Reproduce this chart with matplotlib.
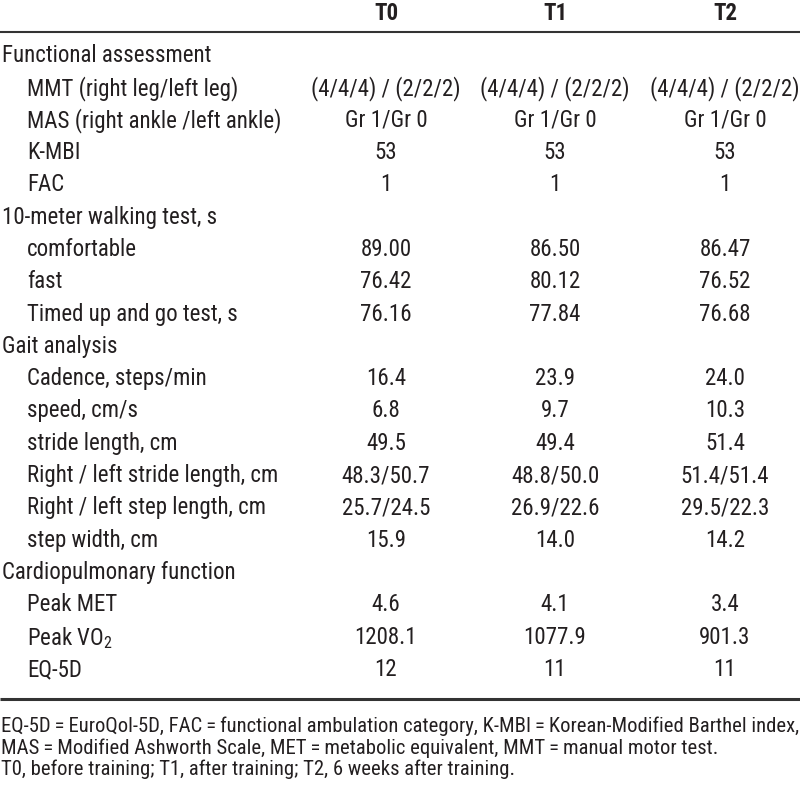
import matplotlib
matplotlib.use("Agg")
import matplotlib.pyplot as plt
from matplotlib import font_manager

# ---------------- data ----------------
columns = ["T0", "T1", "T2"]
row_labels = [
    "Functional assessment",
    "MMT (right leg/left leg)",
    "MAS (right ankle /left ankle)",
    "K-MBI",
    "FAC",
    "10-meter walking test, s",
    "comfortable",
    "fast",
    "Timed up and go test, s",
    "Gait analysis",
    "Cadence, steps/min",
    "speed, cm/s",
    "stride length, cm",
    "Right / left stride length, cm",
    "Right / left step length, cm",
    "step width, cm",
    "Cardiopulmonary function",
    "Peak MET",
    "Peak VO$_2$",
    "EQ-5D",
]
is_section = [True, False, False, False, False, True, False, False, False,
              True, False, False, False, False, False, False,
              True, False, False, False]
t0_values = ["", "(4/4/4) / (2/2/2)", "Gr 1/Gr 0", "53", "1", "", "89.00", "76.42", "76.16",
             "", "16.4", "6.8", "49.5", "48.3/50.7", "25.7/24.5", "15.9", "", "4.6", "1208.1", "12"]
t1_values = ["", "(4/4/4) / (2/2/2)", "Gr 1/Gr 0", "53", "1", "", "86.50", "80.12", "77.84",
             "", "23.9", "9.7", "49.4", "48.8/50.0", "26.9/22.6", "14.0", "", "4.1", "1077.9", "11"]
t2_values = ["", "(4/4/4) / (2/2/2)", "Gr 1/Gr 0", "53", "1", "", "86.47", "76.52", "76.68",
             "", "24.0", "10.3", "51.4", "51.4/51.4", "29.5/22.3", "14.2", "", "3.4", "901.3", "11"]
footnotes = [
    "EQ-5D\u2009=\u2009EuroQol-5D, FAC\u2009=\u2009functional ambulation category, K-MBI\u2009=\u2009Korean-Modified Barthel index,",
    "MAS\u2009=\u2009Modified Ashworth Scale, MET\u2009=\u2009metabolic equivalent, MMT\u2009=\u2009manual motor test.",
    "T0, before training; T1, after training; T2, 6 weeks after training.",
]

# ---------------- fonts ----------------
def pick(names):
    for n in names:
        try:
            font_manager.findfont(font_manager.FontProperties(family=n), fallback_to_default=False)
            return n
        except Exception:
            pass
    return "DejaVu Sans"

main_font = pick(["Liberation Sans Narrow", "Roboto Condensed", "Liberation Sans"])
plt.rcParams["font.family"] = [main_font, "DejaVu Sans"]
plt.rcParams["mathtext.fontset"] = "custom"
plt.rcParams["mathtext.rm"] = main_font
plt.rcParams["mathtext.it"] = main_font
plt.rcParams["mathtext.bf"] = main_font

# ---------------- layout ----------------
W, H = 800, 798
fig = plt.figure(figsize=(W / 100, H / 100), dpi=100)
ax = fig.add_axes([0, 0, 1, 1])
ax.set_xlim(0, W)
ax.set_ylim(H, 0)
ax.axis("off")
renderer = fig.canvas.get_renderer()


def fitted_size(samples, base=12.0):
    """font size so that the sample strings get the widths seen in the reference"""
    scales = []
    for s, target in samples:
        t = ax.text(0, 0, s, fontsize=base)
        w = t.get_window_extent(renderer).width
        t.remove()
        scales.append(target / w)
    return base * sum(scales) / len(scales)


fs = fitted_size([("Functional assessment", 206), ("MMT (right leg/left leg)", 211),
                  ("(4/4/4) / (2/2/2)", 147), ("MAS (right ankle /left ankle)", 258)])
fs_foot = fitted_size([(footnotes[0], 793)])

col_x = [386, 555, 725]
header_y = 13.5
top_line_y = 32
first_row_y = 53
last_row_y = 667
row_step = (last_row_y - first_row_y) / (len(row_labels) - 1)
bottom_line_y = 699
foot_y = [724, 746, 767]
tc = "#231f20"

for cx, name in zip(col_x, columns):
    ax.text(cx, header_y, name, ha="center", va="center", fontsize=fs,
            fontweight="bold", color=tc)

ax.plot([0, W], [top_line_y, top_line_y], color="#333333", lw=1.5, solid_capstyle="butt")
ax.plot([0, W], [bottom_line_y, bottom_line_y], color="#333333", lw=2.2, solid_capstyle="butt")

for i, lab in enumerate(row_labels):
    y = first_row_y + i * row_step
    x = 2 if is_section[i] else 27
    ax.text(x, y, lab, ha="left", va="center_baseline", fontsize=fs, color=tc)
    for cx, vals in zip(col_x, [t0_values, t1_values, t2_values]):
        if vals[i]:
            ax.text(cx, y, vals[i], ha="center", va="center_baseline", fontsize=fs, color=tc)

for j, line in enumerate(footnotes):
    ax.text(1, foot_y[j], line, ha="left", va="center_baseline",
            fontsize=fs_foot, color=tc)

fig.savefig("out.png", dpi=100)
